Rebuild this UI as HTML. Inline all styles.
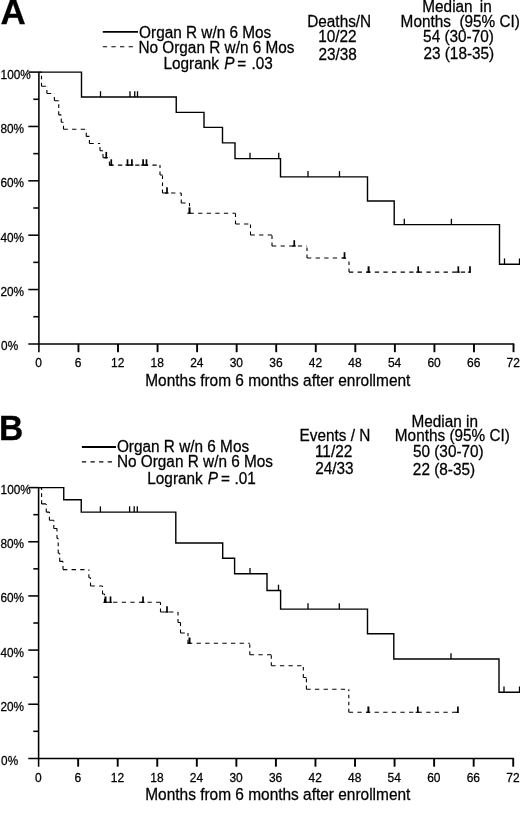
<!DOCTYPE html>
<html><head><meta charset="utf-8"><title>KM</title>
<style>
html,body{margin:0;padding:0;background:#fff;}
body{width:520px;height:817px;overflow:hidden;}
svg{display:block;will-change:transform;}
text{font-family:"Liberation Sans",sans-serif;fill:#000;stroke:#000;stroke-width:0.25px;}
</style></head><body>
<svg width="520" height="817" viewBox="0 0 520 817">
<rect width="520" height="817" fill="#fff"/>

<g id="panelA">
<line x1="38.9" y1="72.1" x2="38.9" y2="352.2" stroke="#000" stroke-width="1.55"/><line x1="28.3" y1="343.9" x2="514.22" y2="343.9" stroke="#000" stroke-width="1.55"/><line x1="33.3" y1="316.72" x2="38.9" y2="316.72" stroke="#000" stroke-width="1.55"/><line x1="28.3" y1="289.54" x2="38.9" y2="289.54" stroke="#000" stroke-width="1.55"/><line x1="33.3" y1="262.36" x2="38.9" y2="262.36" stroke="#000" stroke-width="1.55"/><line x1="28.3" y1="235.18" x2="38.9" y2="235.18" stroke="#000" stroke-width="1.55"/><line x1="33.3" y1="208.0" x2="38.9" y2="208.0" stroke="#000" stroke-width="1.55"/><line x1="28.3" y1="180.82" x2="38.9" y2="180.82" stroke="#000" stroke-width="1.55"/><line x1="33.3" y1="153.64" x2="38.9" y2="153.64" stroke="#000" stroke-width="1.55"/><line x1="28.3" y1="126.46" x2="38.9" y2="126.46" stroke="#000" stroke-width="1.55"/><line x1="33.3" y1="99.28" x2="38.9" y2="99.28" stroke="#000" stroke-width="1.55"/><line x1="28.3" y1="72.1" x2="38.9" y2="72.1" stroke="#000" stroke-width="1.55"/><text transform="translate(1.1 350.4) scale(1 1.03)" font-size="11.8">0%</text><text transform="translate(0.5 296.04) scale(1 1.03)" font-size="11.8">20%</text><text transform="translate(0.5 241.68) scale(1 1.03)" font-size="11.8">40%</text><text transform="translate(0.5 187.32) scale(1 1.03)" font-size="11.8">60%</text><text transform="translate(0.5 132.96) scale(1 1.03)" font-size="11.8">80%</text><text transform="translate(0.6 78.6) scale(1 1.03)" font-size="11.8">100%</text><text transform="translate(38.6 367.1) scale(1 1.03)" font-size="12" text-anchor="middle">0</text><line x1="78.45" y1="343.9" x2="78.45" y2="352.2" stroke="#000" stroke-width="1.9"/><text transform="translate(78.15 367.1) scale(1 1.03)" font-size="12" text-anchor="middle">6</text><line x1="118.0" y1="343.9" x2="118.0" y2="352.2" stroke="#000" stroke-width="1.9"/><text transform="translate(117.7 367.1) scale(1 1.03)" font-size="12" text-anchor="middle">12</text><line x1="157.56" y1="343.9" x2="157.56" y2="352.2" stroke="#000" stroke-width="1.9"/><text transform="translate(157.26 367.1) scale(1 1.03)" font-size="12" text-anchor="middle">18</text><line x1="197.11" y1="343.9" x2="197.11" y2="352.2" stroke="#000" stroke-width="1.9"/><text transform="translate(196.81 367.1) scale(1 1.03)" font-size="12" text-anchor="middle">24</text><line x1="236.66" y1="343.9" x2="236.66" y2="352.2" stroke="#000" stroke-width="1.9"/><text transform="translate(236.36 367.1) scale(1 1.03)" font-size="12" text-anchor="middle">30</text><line x1="276.21" y1="343.9" x2="276.21" y2="352.2" stroke="#000" stroke-width="1.9"/><text transform="translate(275.91 367.1) scale(1 1.03)" font-size="12" text-anchor="middle">36</text><line x1="315.76" y1="343.9" x2="315.76" y2="352.2" stroke="#000" stroke-width="1.9"/><text transform="translate(315.46 367.1) scale(1 1.03)" font-size="12" text-anchor="middle">42</text><line x1="355.32" y1="343.9" x2="355.32" y2="352.2" stroke="#000" stroke-width="1.9"/><text transform="translate(355.02 367.1) scale(1 1.03)" font-size="12" text-anchor="middle">48</text><line x1="394.87" y1="343.9" x2="394.87" y2="352.2" stroke="#000" stroke-width="1.9"/><text transform="translate(394.57 367.1) scale(1 1.03)" font-size="12" text-anchor="middle">54</text><line x1="434.42" y1="343.9" x2="434.42" y2="352.2" stroke="#000" stroke-width="1.9"/><text transform="translate(434.12 367.1) scale(1 1.03)" font-size="12" text-anchor="middle">60</text><line x1="473.97" y1="343.9" x2="473.97" y2="352.2" stroke="#000" stroke-width="1.9"/><text transform="translate(473.67 367.1) scale(1 1.03)" font-size="12" text-anchor="middle">66</text><line x1="513.52" y1="343.9" x2="513.52" y2="352.2" stroke="#000" stroke-width="1.9"/><text transform="translate(513.22 367.1) scale(1 1.03)" font-size="12" text-anchor="middle">72</text><text transform="translate(277.8 385.6) scale(1 1.03)" font-size="15.45" text-anchor="middle">Months from 6 months after enrollment</text>
<text transform="translate(0.55 24.4) scale(1.04 1.03)" font-size="33.6" font-weight="bold" stroke="#000" stroke-width="0.8">A</text>
<line x1="102.8" y1="31.8" x2="138" y2="31.8" stroke="#000" stroke-width="1.8"/>
<line x1="102.8" y1="46.8" x2="133.5" y2="46.8" stroke="#000" stroke-width="1.1" stroke-dasharray="4.3 4.3"/>
<text transform="translate(139.1 37.5) scale(1 1.03)" font-size="15.35">Organ R w/n 6 Mos</text>
<text transform="translate(138.4 52.9) scale(1 1.03)" font-size="15.35">No Organ R w/n 6 Mos</text>
<text transform="translate(163.5 68.8) scale(1 1.03)" font-size="15.35">Logrank <tspan font-style="italic" dx="1">P</tspan><tspan dx="-1.4"> =</tspan><tspan dx="0.9"> .03</tspan></text>
<text transform="translate(339.2 26.5) scale(1 1.03)" font-size="15.35" text-anchor="middle">Deaths/N</text>
<text transform="translate(337.4 42.2) scale(1 1.03)" font-size="15.35" text-anchor="middle">10/22</text>
<text transform="translate(337.6 59.5) scale(1 1.03)" font-size="15.35" text-anchor="middle">23/38</text>
<text transform="translate(422.3 11.8) scale(1 1.03)" font-size="15.35">Median</text>
<text transform="translate(479.8 11.8) scale(1 1.03)" font-size="15.35">in</text>
<text transform="translate(400.6 26.6) scale(1 1.03)" font-size="15.35">Months</text>
<text transform="translate(459.4 26.6) scale(1 1.03)" font-size="15.35">(95% CI)</text>
<text transform="translate(458.5 42) scale(1 1.03)" font-size="15.35" text-anchor="middle">54 (30-70)</text>
<text transform="translate(458.8 59) scale(1 1.03)" font-size="15.35" text-anchor="middle">23 (18-35)</text>
<path d="M38.9 72.1 H81.5 V97 H176.25 V112.4 H204 V127.4 H222.5 V142.9 H235 V158.6 H280.5 V176.9 H367.5 V201 H394.2 V224.6 H499.5 V264.2 H520" fill="none" stroke="#000" stroke-width="1.4"/>
<line x1="100.5" y1="97" x2="100.5" y2="91.2" stroke="#000" stroke-width="1.3"/><line x1="130" y1="97" x2="130" y2="91.2" stroke="#000" stroke-width="1.3"/><line x1="134.75" y1="97" x2="134.75" y2="91.2" stroke="#000" stroke-width="1.3"/><line x1="137.5" y1="97" x2="137.5" y2="91.2" stroke="#000" stroke-width="1.3"/>
<line x1="250" y1="158.6" x2="250" y2="152.8" stroke="#000" stroke-width="1.3"/><line x1="278.75" y1="158.6" x2="278.75" y2="152.8" stroke="#000" stroke-width="1.3"/>
<line x1="308" y1="176.9" x2="308" y2="171.1" stroke="#000" stroke-width="1.3"/><line x1="339.5" y1="176.9" x2="339.5" y2="171.1" stroke="#000" stroke-width="1.3"/>
<line x1="404.3" y1="224.6" x2="404.3" y2="218.8" stroke="#000" stroke-width="1.3"/><line x1="451.4" y1="224.6" x2="451.4" y2="218.8" stroke="#000" stroke-width="1.3"/>
<line x1="504.5" y1="264.2" x2="504.5" y2="258.4" stroke="#000" stroke-width="1.3"/><line x1="519.5" y1="264.2" x2="519.5" y2="258.4" stroke="#000" stroke-width="1.3"/>
<path d="M38.9 72.1H41.5M41.5 86.3H46.9M46.9 93.5H54.4M54.4 100.7H58.75M58.75 114.9H61.25M61.25 122.2H63.5M63.5 129.3H86.25M86.25 136.4H89.4M89.4 143.5H100M100 150.7H103M103 157.7H109.4M109.4 165.1H160M160 175H162.5M162.5 193H181.25M181.25 203H189.5M189.5 213.2H235.5M235.5 224H250.5M250.5 235H272M272 246H307M307 258H349M349 272.1H470" fill="none" stroke="#000" stroke-width="1.1" stroke-dasharray="4.3 4.3"/><path d="M41.5 86.3V72.1M46.9 93.5V86.3M54.4 100.7V93.5M58.75 114.9V100.7M61.25 122.2V114.9M63.5 129.3V122.2M86.25 136.4V129.3M89.4 143.5V136.4M100 150.7V143.5M103 157.7V150.7M109.4 165.1V157.7M160 175V165.1M162.5 193V175M181.25 203V193M189.5 213.2V203M235.5 224V213.2M250.5 235V224M272 246V235M307 258V246M349 272.1V258" fill="none" stroke="#000" stroke-width="1.1" stroke-dasharray="3.6 3.4"/>
<line x1="106.25" y1="158.25" x2="106.25" y2="151.9" stroke="#000" stroke-width="1.7"/><line x1="104.05" y1="157.7" x2="107.85" y2="157.7" stroke="#000" stroke-width="1.1"/>
<line x1="111.25" y1="165.65" x2="111.25" y2="159.3" stroke="#000" stroke-width="1.7"/><line x1="109.05" y1="165.1" x2="112.85" y2="165.1" stroke="#000" stroke-width="1.1"/><line x1="127.5" y1="165.65" x2="127.5" y2="159.3" stroke="#000" stroke-width="1.7"/><line x1="125.3" y1="165.1" x2="129.1" y2="165.1" stroke="#000" stroke-width="1.1"/><line x1="131.9" y1="165.65" x2="131.9" y2="159.3" stroke="#000" stroke-width="1.7"/><line x1="129.7" y1="165.1" x2="133.5" y2="165.1" stroke="#000" stroke-width="1.1"/><line x1="143.1" y1="165.65" x2="143.1" y2="159.3" stroke="#000" stroke-width="1.7"/><line x1="140.9" y1="165.1" x2="144.7" y2="165.1" stroke="#000" stroke-width="1.1"/><line x1="146.5" y1="165.65" x2="146.5" y2="159.3" stroke="#000" stroke-width="1.7"/><line x1="144.3" y1="165.1" x2="148.1" y2="165.1" stroke="#000" stroke-width="1.1"/>
<line x1="167" y1="193.55" x2="167" y2="187.2" stroke="#000" stroke-width="1.7"/><line x1="164.8" y1="193" x2="168.6" y2="193" stroke="#000" stroke-width="1.1"/>
<line x1="189.5" y1="213.75" x2="189.5" y2="207.4" stroke="#000" stroke-width="2.0"/><line x1="187.3" y1="213.2" x2="191.1" y2="213.2" stroke="#000" stroke-width="1.1"/>
<line x1="294.25" y1="246.55" x2="294.25" y2="240.2" stroke="#000" stroke-width="1.7"/><line x1="292.05" y1="246" x2="295.85" y2="246" stroke="#000" stroke-width="1.1"/>
<line x1="344.5" y1="258.55" x2="344.5" y2="252.2" stroke="#000" stroke-width="1.7"/><line x1="342.3" y1="258" x2="346.1" y2="258" stroke="#000" stroke-width="1.1"/>
<line x1="368.6" y1="272.65" x2="368.6" y2="266.3" stroke="#000" stroke-width="2.0"/><line x1="366.4" y1="272.1" x2="370.2" y2="272.1" stroke="#000" stroke-width="1.1"/>
<line x1="418.2" y1="272.65" x2="418.2" y2="266.3" stroke="#000" stroke-width="1.7"/><line x1="416.0" y1="272.1" x2="419.8" y2="272.1" stroke="#000" stroke-width="1.1"/><line x1="458.3" y1="272.65" x2="458.3" y2="266.3" stroke="#000" stroke-width="1.7"/><line x1="456.1" y1="272.1" x2="459.9" y2="272.1" stroke="#000" stroke-width="1.1"/>
<line x1="470" y1="272.65" x2="470" y2="266.3" stroke="#000" stroke-width="1.7"/><line x1="467.8" y1="272.1" x2="470.85" y2="272.1" stroke="#000" stroke-width="1.1"/>
</g>
<g id="panelB">
<line x1="38.6" y1="487.6" x2="38.6" y2="766.6999999999999" stroke="#000" stroke-width="1.55"/><line x1="28.3" y1="758.4" x2="513.92" y2="758.4" stroke="#000" stroke-width="1.55"/><line x1="33.3" y1="731.32" x2="38.6" y2="731.32" stroke="#000" stroke-width="1.55"/><line x1="28.3" y1="704.24" x2="38.6" y2="704.24" stroke="#000" stroke-width="1.55"/><line x1="33.3" y1="677.16" x2="38.6" y2="677.16" stroke="#000" stroke-width="1.55"/><line x1="28.3" y1="650.08" x2="38.6" y2="650.08" stroke="#000" stroke-width="1.55"/><line x1="33.3" y1="623.0" x2="38.6" y2="623.0" stroke="#000" stroke-width="1.55"/><line x1="28.3" y1="595.92" x2="38.6" y2="595.92" stroke="#000" stroke-width="1.55"/><line x1="33.3" y1="568.84" x2="38.6" y2="568.84" stroke="#000" stroke-width="1.55"/><line x1="28.3" y1="541.76" x2="38.6" y2="541.76" stroke="#000" stroke-width="1.55"/><line x1="33.3" y1="514.68" x2="38.6" y2="514.68" stroke="#000" stroke-width="1.55"/><line x1="28.3" y1="487.6" x2="38.6" y2="487.6" stroke="#000" stroke-width="1.55"/><text transform="translate(1.1 764.9) scale(1 1.03)" font-size="11.8">0%</text><text transform="translate(0.5 710.74) scale(1 1.03)" font-size="11.8">20%</text><text transform="translate(0.5 656.58) scale(1 1.03)" font-size="11.8">40%</text><text transform="translate(0.5 602.42) scale(1 1.03)" font-size="11.8">60%</text><text transform="translate(0.5 548.26) scale(1 1.03)" font-size="11.8">80%</text><text transform="translate(0.6 494.1) scale(1 1.03)" font-size="11.8">100%</text><text transform="translate(38.3 781.6) scale(1 1.03)" font-size="12" text-anchor="middle">0</text><line x1="78.15" y1="758.4" x2="78.15" y2="766.6999999999999" stroke="#000" stroke-width="1.9"/><text transform="translate(77.85 781.6) scale(1 1.03)" font-size="12" text-anchor="middle">6</text><line x1="117.7" y1="758.4" x2="117.7" y2="766.6999999999999" stroke="#000" stroke-width="1.9"/><text transform="translate(117.4 781.6) scale(1 1.03)" font-size="12" text-anchor="middle">12</text><line x1="157.26" y1="758.4" x2="157.26" y2="766.6999999999999" stroke="#000" stroke-width="1.9"/><text transform="translate(156.96 781.6) scale(1 1.03)" font-size="12" text-anchor="middle">18</text><line x1="196.81" y1="758.4" x2="196.81" y2="766.6999999999999" stroke="#000" stroke-width="1.9"/><text transform="translate(196.51 781.6) scale(1 1.03)" font-size="12" text-anchor="middle">24</text><line x1="236.36" y1="758.4" x2="236.36" y2="766.6999999999999" stroke="#000" stroke-width="1.9"/><text transform="translate(236.06 781.6) scale(1 1.03)" font-size="12" text-anchor="middle">30</text><line x1="275.91" y1="758.4" x2="275.91" y2="766.6999999999999" stroke="#000" stroke-width="1.9"/><text transform="translate(275.61 781.6) scale(1 1.03)" font-size="12" text-anchor="middle">36</text><line x1="315.46" y1="758.4" x2="315.46" y2="766.6999999999999" stroke="#000" stroke-width="1.9"/><text transform="translate(315.16 781.6) scale(1 1.03)" font-size="12" text-anchor="middle">42</text><line x1="355.02" y1="758.4" x2="355.02" y2="766.6999999999999" stroke="#000" stroke-width="1.9"/><text transform="translate(354.72 781.6) scale(1 1.03)" font-size="12" text-anchor="middle">48</text><line x1="394.57" y1="758.4" x2="394.57" y2="766.6999999999999" stroke="#000" stroke-width="1.9"/><text transform="translate(394.27 781.6) scale(1 1.03)" font-size="12" text-anchor="middle">54</text><line x1="434.12" y1="758.4" x2="434.12" y2="766.6999999999999" stroke="#000" stroke-width="1.9"/><text transform="translate(433.82 781.6) scale(1 1.03)" font-size="12" text-anchor="middle">60</text><line x1="473.67" y1="758.4" x2="473.67" y2="766.6999999999999" stroke="#000" stroke-width="1.9"/><text transform="translate(473.37 781.6) scale(1 1.03)" font-size="12" text-anchor="middle">66</text><line x1="513.22" y1="758.4" x2="513.22" y2="766.6999999999999" stroke="#000" stroke-width="1.9"/><text transform="translate(512.92 781.6) scale(1 1.03)" font-size="12" text-anchor="middle">72</text><text transform="translate(277.8 800.1) scale(1 1.03)" font-size="15.45" text-anchor="middle">Months from 6 months after enrollment</text>
<text transform="translate(-1.1 439.6) scale(1 1.03)" font-size="33.6" font-weight="bold" stroke="#000" stroke-width="0.6">B</text>
<line x1="81.9" y1="447" x2="116" y2="447" stroke="#000" stroke-width="1.8"/>
<line x1="81.9" y1="461.9" x2="113" y2="461.9" stroke="#000" stroke-width="1.1" stroke-dasharray="4.3 4.3"/>
<text transform="translate(116.9 452.2) scale(1 1.03)" font-size="15.35">Organ R w/n 6 Mos</text>
<text transform="translate(116.9 467.3) scale(1 1.03)" font-size="15.35">No Organ R w/n 6 Mos</text>
<text transform="translate(147.3 484.2) scale(1 1.03)" font-size="15.35">Logrank <tspan font-style="italic" dx="0.8">P</tspan><tspan dx="-1.4"> =</tspan><tspan dx="0.3"> .01</tspan></text>
<text transform="translate(335 440.5) scale(1 1.03)" font-size="15.35" text-anchor="middle">Events / N</text>
<text transform="translate(333.6 456.6) scale(1 1.03)" font-size="15.35" text-anchor="middle">11/22</text>
<text transform="translate(334.4 473.9) scale(1 1.03)" font-size="15.35" text-anchor="middle">24/33</text>
<text transform="translate(444.7 426.9) scale(1 1.03)" font-size="15.35" text-anchor="middle">Median in</text>
<text transform="translate(452.4 440.5) scale(1 1.03)" font-size="15.35" text-anchor="middle">Months (95% CI)</text>
<text transform="translate(448.3 456.7) scale(1 1.03)" font-size="15.35" text-anchor="middle">50 (30-70)</text>
<text transform="translate(444 474.5) scale(1 1.03)" font-size="15.35" text-anchor="middle">22 (8-35)</text>
<path d="M38.6 487.6 H63.75 V499.7 H81.25 V512.1 H175.8 V543 H222.7 V558.2 H234.6 V573.7 H267 V590.5 H280.6 V609.1 H367.5 V633.8 H393.8 V659 H499 V692.3 H520" fill="none" stroke="#000" stroke-width="1.4"/>
<line x1="100.4" y1="512.1" x2="100.4" y2="506.3" stroke="#000" stroke-width="1.3"/><line x1="129.6" y1="512.1" x2="129.6" y2="506.3" stroke="#000" stroke-width="1.3"/><line x1="134.2" y1="512.1" x2="134.2" y2="506.3" stroke="#000" stroke-width="1.3"/><line x1="137.3" y1="512.1" x2="137.3" y2="506.3" stroke="#000" stroke-width="1.3"/>
<line x1="250" y1="573.7" x2="250" y2="567.9" stroke="#000" stroke-width="1.3"/>
<line x1="278.5" y1="590.5" x2="278.5" y2="584.7" stroke="#000" stroke-width="1.3"/>
<line x1="308" y1="609.1" x2="308" y2="603.3" stroke="#000" stroke-width="1.3"/><line x1="339.3" y1="609.1" x2="339.3" y2="603.3" stroke="#000" stroke-width="1.3"/>
<line x1="451" y1="659" x2="451" y2="653.2" stroke="#000" stroke-width="1.3"/>
<line x1="504" y1="692.3" x2="504" y2="686.5" stroke="#000" stroke-width="1.3"/><line x1="519.5" y1="692.3" x2="519.5" y2="686.5" stroke="#000" stroke-width="1.3"/>
<path d="M38.6 487.6H41.6M41.6 503.9H46.25M46.25 512.1H49.4M49.4 520.3H53.8M53.8 528.5H57M57 538.5H58.2M58.2 553.2H59.7M59.7 561.4H63M63 569.6H88.9M88.9 577.8H90.5M90.5 586H102.5M102.5 594H104.5M104.5 602.3H160.5M160.5 612H178M178 622.5H180.5M180.5 633H188M188 643.3H249.8M249.8 654.8H271.3M271.3 665.8H303.3M303.3 677.5H306.4M306.4 689.2H348.8M348.8 712.3H457.5" fill="none" stroke="#000" stroke-width="1.1" stroke-dasharray="4.3 4.3"/><path d="M41.6 503.9V487.6M46.25 512.1V503.9M49.4 520.3V512.1M53.8 528.5V520.3M57 538.5V528.5M58.2 553.2V538.5M59.7 561.4V553.2M63 569.6V561.4M88.9 577.8V569.6M90.5 586V577.8M102.5 594V586M104.5 602.3V594M160.5 612V602.3M178 622.5V612M180.5 633V622.5M188 643.3V633M249.8 654.8V643.3M271.3 665.8V654.8M303.3 677.5V665.8M306.4 689.2V677.5M348.8 712.3V689.2" fill="none" stroke="#000" stroke-width="1.1" stroke-dasharray="3.6 3.4"/>
<line x1="105.5" y1="602.85" x2="105.5" y2="596.5" stroke="#000" stroke-width="2.0"/><line x1="103.3" y1="602.3" x2="107.1" y2="602.3" stroke="#000" stroke-width="1.1"/>
<line x1="110.5" y1="602.85" x2="110.5" y2="596.5" stroke="#000" stroke-width="1.7"/><line x1="108.3" y1="602.3" x2="112.1" y2="602.3" stroke="#000" stroke-width="1.1"/><line x1="143" y1="602.85" x2="143" y2="596.5" stroke="#000" stroke-width="1.7"/><line x1="140.8" y1="602.3" x2="144.6" y2="602.3" stroke="#000" stroke-width="1.1"/>
<line x1="167" y1="612.55" x2="167" y2="606.2" stroke="#000" stroke-width="1.7"/><line x1="164.8" y1="612" x2="168.6" y2="612" stroke="#000" stroke-width="1.1"/>
<line x1="189.5" y1="643.85" x2="189.5" y2="637.5" stroke="#000" stroke-width="2.0"/><line x1="187.3" y1="643.3" x2="191.1" y2="643.3" stroke="#000" stroke-width="1.1"/>
<line x1="368.4" y1="712.85" x2="368.4" y2="706.5" stroke="#000" stroke-width="2.0"/><line x1="366.2" y1="712.3" x2="370.0" y2="712.3" stroke="#000" stroke-width="1.1"/>
<line x1="417.8" y1="712.85" x2="417.8" y2="706.5" stroke="#000" stroke-width="1.7"/><line x1="415.6" y1="712.3" x2="419.4" y2="712.3" stroke="#000" stroke-width="1.1"/>
<line x1="457.9" y1="712.85" x2="457.9" y2="706.5" stroke="#000" stroke-width="1.7"/><line x1="455.7" y1="712.3" x2="458.75" y2="712.3" stroke="#000" stroke-width="1.1"/>
</g>
</svg></body></html>
